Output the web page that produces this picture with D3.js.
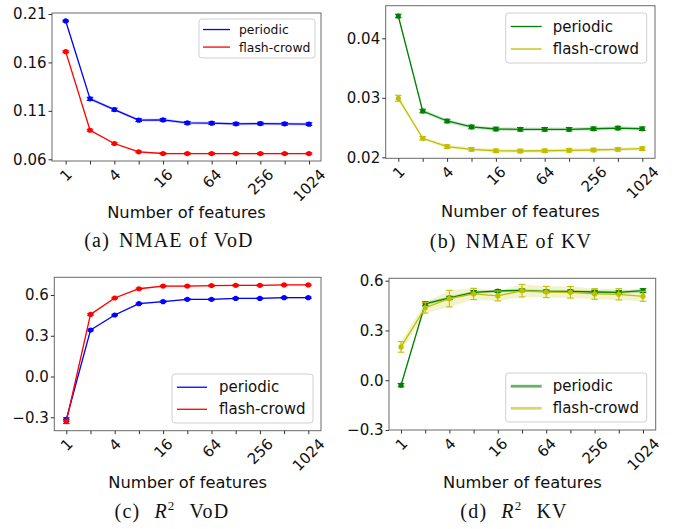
<!DOCTYPE html>
<html><head><meta charset="utf-8">
<script src="https://cdn.jsdelivr.net/npm/d3@7"></script>
<style>body{margin:0;background:#fff}svg{display:block}</style>
</head><body>
<svg id="c" width="678" height="529"></svg>
<script>
// ---------- data ----------
const features = [1,2,4,8,16,32,64,128,256,512,1024];
const xTickLabels = ["1","","4","","16","","64","","256","","1024"];
const seriesNames = ["periodic","flash-crowd"];

const vodNmaePeriodic    = [0.2028,0.1224,0.1113,0.1004,0.1007,0.0976,0.0973,0.0966,0.0969,0.0966,0.0963];
const vodNmaePeriodicErr = [0.0008,0.0016,0.0014,0.0014,0.0014,0.0014,0.0014,0.0014,0.0014,0.0014,0.0014];
const vodNmaeFlash       = [0.1711,0.0900,0.0763,0.0677,0.0660,0.0659,0.0659,0.0659,0.0659,0.0659,0.0659];
const vodNmaeFlashErr    = [0.0009,0.0010,0.0009,0.0008,0.0008,0.0008,0.0008,0.0008,0.0008,0.0008,0.0008];

const kvNmaePeriodic     = [0.04375,0.02778,0.0261,0.0251,0.02476,0.0247,0.0247,0.0247,0.0248,0.02492,0.0248];
const kvNmaePeriodicErr  = [0.0003,0.0003,0.0003,0.0003,0.0003,0.0003,0.0003,0.0003,0.0003,0.0003,0.0003];
const kvNmaeFlash        = [0.02992,0.0232,0.0218,0.02134,0.0211,0.02106,0.0211,0.02118,0.02123,0.02134,0.02145];
const kvNmaeFlashErr     = [0.0005,0.0003,0.0003,0.0003,0.0003,0.0003,0.0003,0.0003,0.0003,0.0003,0.0003];

const vodR2Periodic      = [-0.316,0.342,0.453,0.536,0.551,0.568,0.568,0.575,0.575,0.580,0.580];
const vodR2PeriodicErr   = [0.012,0.006,0.005,0.005,0.005,0.005,0.005,0.005,0.005,0.005,0.005];
const vodR2Flash         = [-0.331,0.457,0.578,0.646,0.666,0.666,0.669,0.671,0.671,0.674,0.674];
const vodR2FlashErr      = [0.015,0.006,0.005,0.005,0.005,0.005,0.005,0.005,0.005,0.005,0.005];

const kvR2Periodic       = [-0.030,0.461,0.496,0.530,0.538,0.542,0.536,0.536,0.532,0.530,0.540];
const kvR2PeriodicErr    = [0.010,0.012,0.010,0.010,0.008,0.008,0.008,0.008,0.010,0.010,0.012];
const kvR2Flash          = [0.201,0.437,0.492,0.520,0.508,0.540,0.532,0.530,0.520,0.518,0.506];
const kvR2FlashErr       = [0.032,0.032,0.050,0.034,0.030,0.038,0.034,0.035,0.032,0.034,0.030];

const yTicksVodNmae = [0.06,0.11,0.16,0.21];
const yTicksKvNmae  = [0.02,0.03,0.04];
const yTicksR2      = [-0.3,0.0,0.3,0.6];

// ---------- layout / style ----------
const panels = [
  {frame:[52,321,13,161], x:[65.7,309], yd:[0.06,0.21], yr:[159.3,14], ticks:yTicksVodNmae, fmt:".2f",
   series:[[vodNmaePeriodic,vodNmaePeriodicErr],[vodNmaeFlash,vodNmaeFlashErr]], colors:["#0000ff","#ff0000"],
   legend:{x:199,y:19,w:116,h:39,fs:12.4,lx0:4,lx1:31,tx:40}, xlabelY:218,
   caption:{x:169,y:247,lab:"(a)",text:"NMAE of VoD"}},
  {frame:[385.7,655,5.7,158.3], x:[398.3,642.3], yd:[0.02,0.04], yr:[157.3,38.3], ticks:yTicksKvNmae, fmt:".2f",
   series:[[kvNmaePeriodic,kvNmaePeriodicErr],[kvNmaeFlash,kvNmaeFlashErr]], colors:["#008000","#bfbf00"],
   legend:{x:505.7,y:13,w:141,h:50,fs:15,lx0:5,lx1:36,tx:47}, xlabelY:217,
   caption:{x:511,y:248,lab:"(b)",text:"NMAE of KV"}},
  {frame:[54.3,321,277.3,430.7], x:[66.3,308.3], yd:[-0.3,0.6], yr:[417.3,295], ticks:yTicksR2, fmt:".1f",
   series:[[vodR2Periodic,vodR2PeriodicErr],[vodR2Flash,vodR2FlashErr]], colors:["#0000ff","#ff0000"],
   legend:{x:172,y:374,w:141,h:49,fs:15,lx0:5,lx1:35,tx:47}, xlabelY:488,
   caption:{x:172,y:518,lab:"(c)",r2:"VoD"}},
  {frame:[389,655.7,278.3,430], x:[401,643], yd:[-0.3,0.6], yr:[430,280.7], ticks:yTicksR2, fmt:".1f",
   series:[[kvR2Periodic,kvR2PeriodicErr],[kvR2Flash,kvR2FlashErr]], colors:["#008000","#bfbf00"],
   legend:{x:505.7,y:373,w:141,h:49,fs:15,lx0:5,lx1:36,tx:47,soft:true}, xlabelY:488,
   caption:{x:514,y:518,lab:"(d)",r2:"KV"}}
];

const svg = d3.select("#c");
const SANS = "DejaVu Sans, sans-serif";
const SERIF = "Liberation Serif, Times New Roman, serif";

panels.forEach(p => {
  const [fx0,fx1,fy0,fy1] = p.frame;
  const x = d3.scaleLog().base(2).domain([1,1024]).range(p.x);
  const y = d3.scaleLinear().domain(p.yd).range(p.yr);
  const g = svg.append("g");

  const mk = (vals,errs) => features.map((f,i)=>({f, v:vals[i], e:errs[i]}));
  p.series.forEach(([vals,errs],si) => {
    g.append("path").datum(mk(vals,errs))
      .attr("d", d3.area().x(d=>x(d.f)).y0(d=>y(d.v-d.e)).y1(d=>y(d.v+d.e)))
      .attr("fill", p.colors[si]).attr("fill-opacity", 0.2);
  });
  p.series.forEach(([vals,errs],si) => {
    const col = p.colors[si];
    const pts = mk(vals,errs);
    g.append("path").datum(pts)
      .attr("d", d3.line().x(d=>x(d.f)).y(d=>y(d.v)))
      .attr("fill","none").attr("stroke", col).attr("stroke-width",1.3);
    const eb = g.append("g").attr("stroke", col).attr("stroke-width",1.1);
    pts.forEach(d => {
      const cx = x(d.f), ya = y(d.v-d.e), yb = y(d.v+d.e);
      eb.append("line").attr("x1",cx).attr("x2",cx).attr("y1",ya).attr("y2",yb);
      eb.append("line").attr("x1",cx-3.3).attr("x2",cx+3.3).attr("y1",ya).attr("y2",ya);
      eb.append("line").attr("x1",cx-3.3).attr("x2",cx+3.3).attr("y1",yb).attr("y2",yb);
    });
    g.selectAll(null).data(pts).enter().append("circle")
      .attr("cx",d=>x(d.f)).attr("cy",d=>y(d.v)).attr("r",2.6).attr("fill",col);
  });

  // frame
  g.append("rect").attr("x",fx0).attr("y",fy0).attr("width",fx1-fx0).attr("height",fy1-fy0)
    .attr("fill","none").attr("stroke","#6a6a6a").attr("stroke-width",1);

  // y axis
  const ya = g.append("g").attr("transform",`translate(${fx0},0)`)
    .call(d3.axisLeft(y).tickValues(p.ticks).tickFormat(d3.format(p.fmt)).tickSize(3.5).tickPadding(2));
  ya.select(".domain").remove();
  ya.selectAll("line").attr("stroke","#333");
  ya.selectAll("text").attr("font-family",SANS).attr("font-size",15).attr("fill","#111");

  // x axis
  const xa = g.append("g").attr("transform",`translate(0,${fy1})`)
    .call(d3.axisBottom(x).tickValues(features).tickFormat((d,i)=>xTickLabels[i]).tickSize(3.5));
  xa.select(".domain").remove();
  xa.selectAll("line").attr("stroke","#333");
  xa.selectAll("text").attr("font-family",SANS).attr("font-size",15).attr("fill","#111")
    .attr("text-anchor","middle").attr("dy",null).attr("dominant-baseline","central")
    .each(function(){
      const w = this.getComputedTextLength();
      const off = 7 + (w + 11) * Math.SQRT1_2 / 2;
      d3.select(this).attr("y", off).attr("transform", `rotate(-45,0,${off})`);
    });

  // x label
  g.append("text").attr("x",(fx0+fx1)/2).attr("y",p.xlabelY).attr("text-anchor","middle")
    .attr("font-family",SANS).attr("font-size",16.3).attr("fill","#111").text("Number of features");

  // legend
  const L = p.legend;
  const lg = g.append("g");
  lg.append("rect").attr("x",L.x).attr("y",L.y).attr("width",L.w).attr("height",L.h).attr("rx",3)
    .attr("fill","#fff").attr("fill-opacity",0.85).attr("stroke","#d0d0d0").attr("stroke-width",1);
  seriesNames.forEach((nm,i)=>{
    const cy = L.y + L.h*(i===0?0.27:0.72);
    lg.append("line").attr("x1",L.x+L.lx0).attr("x2",L.x+L.lx1).attr("y1",cy).attr("y2",cy)
      .attr("stroke",p.colors[i])
      .attr("stroke-opacity",L.soft?0.6:1).attr("stroke-width",L.soft?2.8:1.3);
    lg.append("text").attr("x",L.x+L.tx).attr("y",cy).attr("dominant-baseline","central")
      .attr("font-family",SANS).attr("font-size",L.fs).attr("fill","#111").text(nm);
  });

  // caption
  const C = p.caption;
  const cap = g.append("text").attr("x",C.x).attr("y",C.y).attr("text-anchor","middle")
    .attr("font-family",SERIF).attr("font-size",20).attr("letter-spacing",1.2).attr("fill","#111");
  cap.append("tspan").text(C.lab);
  if (C.r2) {
    cap.append("tspan").attr("dx",14).attr("font-style","italic").text("R");
    cap.append("tspan").attr("font-size",13).attr("dy",-8).attr("dx",0).text("2");
    cap.append("tspan").attr("dy",8).attr("dx",14).text(C.r2);
  } else {
    cap.append("tspan").attr("dx",9).text(C.text);
  }
});
</script>
</body></html>
